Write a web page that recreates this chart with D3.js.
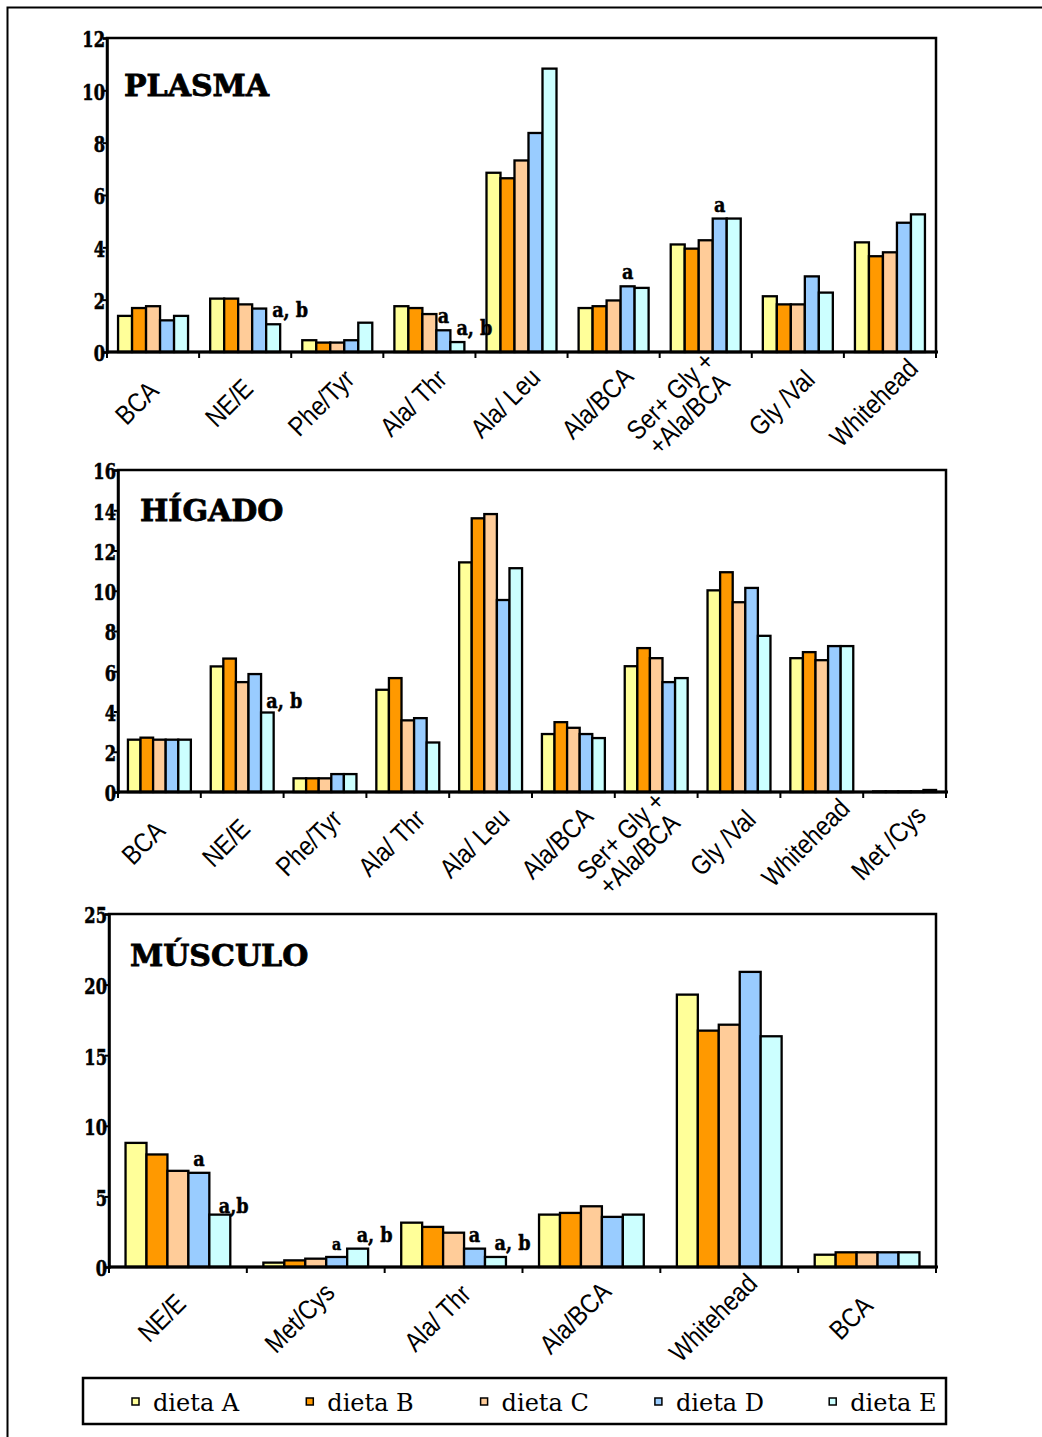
<!DOCTYPE html>
<html>
<head>
<meta charset="utf-8">
<script src="https://cdn.jsdelivr.net/npm/d3@7"></script>
<style>
  html, body { margin: 0; padding: 0; background: #fff; }
  svg { display: block; }
</style>
</head>
<body>
<svg id="chart" width="1042" height="1437"></svg>
<script>
// ---- data ----
const series = ["dieta A", "dieta B", "dieta C", "dieta D", "dieta E"];
const seriesColors = ["#FFFF99", "#FF9900", "#FFCC99", "#99CCFF", "#CCFFFF"];

const plasmaCategories = ["BCA", "NE/E", "Phe/Tyr", "Ala/ Thr", "Ala/ Leu", "Ala/BCA", "Ser+ Gly +|+Ala/BCA", "Gly /Val", "Whitehead"];
const plasmaValues = [
  [1.38, 1.68, 1.75, 1.21, 1.38],
  [2.04, 2.04, 1.82, 1.66, 1.06],
  [0.45, 0.36, 0.36, 0.45, 1.12],
  [1.75, 1.68, 1.45, 0.83, 0.38],
  [6.85, 6.64, 7.32, 8.37, 10.83],
  [1.68, 1.75, 1.97, 2.51, 2.45],
  [4.11, 3.95, 4.27, 5.10, 5.10],
  [2.13, 1.82, 1.82, 2.89, 2.27],
  [4.19, 3.66, 3.81, 4.94, 5.26]
];
const plasmaTicks = [0, 2, 4, 6, 8, 10, 12];
const plasmaNotes = [
  { cat: 1, s: 4, text: "a, b" },
  { cat: 3, s: 3, text: "a" },
  { cat: 3, s: 4, text: "a, b" },
  { cat: 5, s: 3, text: "a" },
  { cat: 6, s: 3, text: "a" }
];

const higadoCategories = ["BCA", "NE/E", "Phe/Tyr", "Ala/ Thr", "Ala/ Leu", "Ala/BCA", "Ser+ Gly +|+Ala/BCA", "Gly /Val", "Whitehead", "Met /Cys"];
const higadoValues = [
  [2.6, 2.7, 2.6, 2.6, 2.6],
  [6.24, 6.63, 5.46, 5.86, 3.95],
  [0.68, 0.68, 0.68, 0.89, 0.89],
  [5.08, 5.66, 3.56, 3.67, 2.46],
  [11.41, 13.6, 13.81, 9.54, 11.12],
  [2.88, 3.47, 3.19, 2.88, 2.68],
  [6.25, 7.15, 6.65, 5.46, 5.66],
  [10.02, 10.92, 9.43, 10.14, 7.76],
  [6.65, 6.95, 6.55, 7.25, 7.25],
  [0.03, 0.03, 0.03, 0.03, 0.1]
];
const higadoTicks = [0, 2, 4, 6, 8, 10, 12, 14, 16];
const higadoNotes = [
  { cat: 1, s: 4, text: "a, b", dy: 2 }
];

const musculoCategories = ["NE/E", "Met/Cys", "Ala/ Thr", "Ala/BCA", "Whitehead", "BCA"];
const musculoValues = [
  [8.79, 7.97, 6.81, 6.67, 3.71],
  [0.31, 0.47, 0.59, 0.71, 1.30],
  [3.14, 2.84, 2.43, 1.30, 0.71],
  [3.71, 3.83, 4.30, 3.55, 3.71],
  [19.29, 16.74, 17.16, 20.90, 16.34],
  [0.87, 1.04, 1.04, 1.04, 1.04]
];
const musculoTicks = [0, 5, 10, 15, 20, 25];
const musculoNotes = [
  { cat: 0, s: 3, text: "a" },
  { cat: 0, s: 4, text: "a,b", dy: 5 },
  { cat: 1, s: 3, text: "a", small: true },
  { cat: 1, s: 4, text: "a, b" },
  { cat: 2, s: 3, text: "a" },
  { cat: 2, s: 4, text: "a, b" }
];

// ---- drawing ----
const svg = d3.select("#chart");
const heavySerif = "'DejaVu Serif', 'Liberation Serif', serif";
const sans = "'Liberation Sans', Arial, sans-serif";

// outer frame (runs off the right and bottom edges)
svg.append("rect")
  .attr("x", 7.5).attr("y", 7.5)
  .attr("width", 1060).attr("height", 1460)
  .attr("fill", "none").attr("stroke", "#000").attr("stroke-width", 2);

function panel(opt) {
  const { x0, x1, y0, y1, max, ticks, cats, values, notes, title, tx, ty } = opt;
  const g = svg.append("g");

  const x = d3.scaleBand().domain(d3.range(cats.length)).range([x0, x1]).padding(0);
  const bw = x.bandwidth();
  const xs = d3.scaleBand().domain(d3.range(series.length))
    .range([bw * 0.12, bw * 0.88]).padding(0);
  const y = d3.scaleLinear().domain([0, max]).range([y1, y0]);

  // bars
  const groups = g.selectAll("g.cat").data(values).join("g")
    .attr("class", "cat")
    .attr("transform", (d, i) => `translate(${x(i)},0)`);
  groups.selectAll("rect").data(d => d).join("rect")
    .attr("x", (d, i) => xs(i))
    .attr("y", d => y(d))
    .attr("width", xs.bandwidth())
    .attr("height", d => y(0) - y(d))
    .attr("fill", (d, i) => seriesColors[i])
    .attr("stroke", "#000")
    .attr("stroke-width", 2.3);

  // plot frame
  g.append("rect")
    .attr("x", x0).attr("y", y0)
    .attr("width", x1 - x0).attr("height", y1 - y0)
    .attr("fill", "none").attr("stroke", "#000").attr("stroke-width", 2.5);

  // y axis
  const yAxis = d3.axisLeft(y).tickValues(ticks).tickSize(4).tickFormat(d3.format("d"));
  const ya = g.append("g").attr("transform", `translate(${x0},0)`).call(yAxis);
  ya.select(".domain").attr("stroke", "#000").attr("stroke-width", 2.5);
  ya.selectAll(".tick line").attr("stroke", "#000").attr("stroke-width", 2);
  const sx = 0.74;
  ya.selectAll(".tick text")
    .attr("x", -2 / sx)
    .attr("dy", "0.4em")
    .attr("transform", `scale(${sx},1)`)
    .attr("font-family", heavySerif).attr("font-weight", "bold")
    .attr("font-size", 22).attr("fill", "#000")
    .attr("stroke", "#000").attr("stroke-width", 0.6);

  // x axis: category boundary ticks
  const edges = d3.range(cats.length + 1).map(i => x0 + i * bw);
  g.append("line")
    .attr("x1", x0).attr("x2", x1 + 2).attr("y1", y1).attr("y2", y1)
    .attr("stroke", "#000").attr("stroke-width", 3);
  g.selectAll("line.xt").data(edges).join("line")
    .attr("class", "xt")
    .attr("x1", d => d).attr("x2", d => d)
    .attr("y1", y1).attr("y2", y1 + 6)
    .attr("stroke", "#000").attr("stroke-width", 2);

  // rotated category labels
  cats.forEach((c, i) => {
    const lines = c.split("|");
    const cx = x(i) + bw / 2 - 16 - (lines.length > 1 ? 10 : 0);
    const cy = y1 + 51 + (lines.length > 1 ? 2 : 0);
    const t = g.append("text")
      .attr("transform", `translate(${cx},${cy}) rotate(-45) scale(0.86,1)`)
      .attr("text-anchor", "middle")
      .attr("font-family", sans).attr("font-size", 27)
      .attr("fill", "#000");
    lines.forEach((ln, k) => {
      t.append("tspan")
        .attr("x", 0)
        .attr("y", (k - (lines.length - 1) / 2) * 26 + 9)
        .text(ln);
    });
  });

  // significance marks
  notes.forEach(n => {
    const bx = x(n.cat) + xs(n.s) + xs.bandwidth() / 2;
    const by = y(values[n.cat][n.s]) - 7 + (n.dy || 0);
    const single = n.text === "a";
    const px = single ? bx : bx - 1;
    g.append("text")
      .attr("transform", `translate(${px},${by}) scale(0.84,1)`)
      .attr("text-anchor", single ? "middle" : "start")
      .attr("font-family", heavySerif).attr("font-weight", "bold")
      .attr("font-size", n.small ? 17 : 21)
      .attr("fill", "#000")
      .attr("stroke", "#000").attr("stroke-width", 0.5)
      .text(n.text);
  });

  // panel title
  g.append("text")
    .attr("x", tx).attr("y", ty)
    .attr("font-family", heavySerif).attr("font-weight", "bold")
    .attr("font-size", 30).attr("fill", "#000")
    .attr("stroke", "#000").attr("stroke-width", 0.8)
    .text(title);
}

panel({ x0: 107, x1: 936, y0: 38, y1: 352, max: 12, ticks: plasmaTicks,
  cats: plasmaCategories, values: plasmaValues, notes: plasmaNotes,
  title: "PLASMA", tx: 124, ty: 96 });

panel({ x0: 118, x1: 946, y0: 470, y1: 792, max: 16, ticks: higadoTicks,
  cats: higadoCategories, values: higadoValues, notes: higadoNotes,
  title: "HÍGADO", tx: 140, ty: 521 });

panel({ x0: 109, x1: 936, y0: 914, y1: 1267, max: 25, ticks: musculoTicks,
  cats: musculoCategories, values: musculoValues, notes: musculoNotes,
  title: "MÚSCULO", tx: 130, ty: 966 });

// legend
const lg = svg.append("g");
lg.append("rect")
  .attr("x", 83).attr("y", 1378).attr("width", 863).attr("height", 46)
  .attr("fill", "#fff").attr("stroke", "#000").attr("stroke-width", 2.5);
const lx = d3.scaleLinear().domain([0, series.length]).range([132, 132 + 174.3 * series.length]);
series.forEach((s, i) => {
  lg.append("rect")
    .attr("x", lx(i)).attr("y", 1398).attr("width", 7).attr("height", 7)
    .attr("fill", seriesColors[i]).attr("stroke", "#000").attr("stroke-width", 1.5);
  lg.append("text")
    .attr("x", lx(i) + 21).attr("y", 1411)
    .attr("font-family", heavySerif)
    .attr("font-size", 24).attr("fill", "#000")
    .text(s);
});
</script>
</body>
</html>
